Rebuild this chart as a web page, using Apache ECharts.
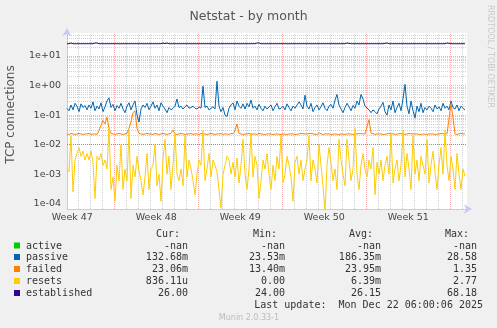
<!DOCTYPE html>
<html><head><meta charset="utf-8">
<script src="https://cdn.jsdelivr.net/npm/echarts@6/dist/echarts.min.js"></script>
<style>html,body{margin:0;padding:0;background:#f0f0f0}#c{width:497px;height:328px}</style>
</head><body><div id="c"></div>
<script>
// ---------- data ----------
const titleText = 'Netstat - by month';
const yAxisTitle = 'TCP connections';
const seriesNames = ['active', 'passive', 'failed', 'resets', 'established'];
const seriesColors = ['#00CC00', '#0066B3', '#FF8000', '#FFCC00', '#330099'];

// sample spacing: 4 hours, time measured in days from left edge of graph
const sampleHours = 4;
const daySpan = 33.333;

const activeValues = []; // -nan: no data

const passiveValues = [
  0.17,0.14,0.22,0.15,0.25,0.2,0.13,0.24,0.18,0.21,
  0.15,0.22,0.17,0.28,0.14,0.2,0.16,0.26,0.13,0.19,
  0.3,0.38,0.18,0.23,0.14,0.21,0.17,0.25,0.16,0.12,
  0.2,0.26,0.15,0.22,0.3,0.1,0.058,0.16,0.22,0.18,
  0.25,0.15,0.2,0.28,0.17,0.22,0.14,0.26,0.2,0.16,
  0.12,0.18,0.15,0.17,0.2,0.35,0.18,0.2,0.16,0.19,
  0.22,0.17,0.18,0.2,0.17,0.16,0.19,0.17,0.95,0.18,
  0.2,0.15,0.17,0.19,0.16,1.4,0.2,0.13,0.18,0.1,
  0.09,0.17,0.22,0.26,0.15,0.3,0.2,0.17,0.24,0.16,
  0.25,0.19,0.32,0.17,0.2,0.15,0.23,0.17,0.14,0.2,
  0.16,0.18,0.22,0.14,0.19,0.25,0.16,0.17,0.2,0.15,
  0.24,0.18,0.14,0.2,0.17,0.15,0.28,0.22,0.16,0.47,
  0.2,0.16,0.25,0.13,0.18,0.22,0.15,0.19,0.26,0.17,
  0.14,0.2,0.23,0.17,0.32,0.5,0.22,0.16,0.12,0.18,
  0.25,0.19,0.14,0.21,0.17,0.3,0.22,0.5,0.35,0.2,
  0.18,0.15,0.12,0.15,0.13,0.11,0.16,0.2,0.27,0.13,
  0.1,0.22,0.15,0.3,0.12,0.18,0.25,0.14,0.35,1.1,
  0.2,0.11,0.3,0.14,0.08,0.2,0.13,0.25,0.12,0.18,
  0.15,0.2,0.17,0.13,0.22,0.16,0.19,0.14,0.25,0.17,
  0.2,0.15,0.3,0.18,0.16,0.22,0.14,0.2,0.17,0.15
];

const failedValues = [
  0.023,0.022,0.024,0.023,0.022,0.023,0.024,0.023,0.022,0.023,
  0.023,0.024,0.022,0.023,0.023,0.022,0.03,0.045,0.065,0.05,
  0.085,0.035,0.024,0.023,0.022,0.023,0.024,0.023,0.022,0.023,
  0.024,0.035,0.06,0.12,0.14,0.035,0.024,0.023,0.022,0.023,
  0.024,0.023,0.023,0.022,0.024,0.023,0.022,0.023,0.024,0.023,
  0.022,0.023,0.024,0.031,0.023,0.022,0.023,0.024,0.023,0.022,
  0.023,0.023,0.024,0.022,0.023,0.023,0.022,0.024,0.023,0.023,
  0.022,0.023,0.024,0.023,0.022,0.023,0.023,0.024,0.022,0.023,
  0.023,0.022,0.024,0.023,0.03,0.05,0.024,0.023,0.022,0.023,
  0.023,0.024,0.022,0.023,0.023,0.022,0.024,0.023,0.023,0.022,
  0.023,0.024,0.023,0.022,0.023,0.023,0.024,0.022,0.023,0.023,
  0.022,0.023,0.024,0.023,0.022,0.023,0.023,0.024,0.022,0.023,
  0.023,0.022,0.024,0.023,0.023,0.022,0.025,0.023,0.022,0.023,
  0.024,0.023,0.022,0.023,0.023,0.024,0.022,0.023,0.023,0.022,
  0.023,0.024,0.023,0.022,0.023,0.023,0.024,0.022,0.023,0.023,
  0.023,0.07,0.025,0.023,0.022,0.023,0.024,0.023,0.022,0.023,
  0.023,0.024,0.022,0.023,0.023,0.022,0.024,0.023,0.023,0.022,
  0.023,0.024,0.023,0.022,0.023,0.023,0.024,0.022,0.023,0.023,
  0.022,0.023,0.024,0.023,0.022,0.023,0.023,0.024,0.022,0.023,
  0.023,0.024,0.25,0.08,0.023,0.022,0.023,0.024,0.023,0.023
];

const resetsValues = [
  1.5e-3,1.2e-3,2e-2,2.5e-4,3e-3,5e-3,8e-3,4e-3,6e-3,3e-3,
  5e-3,3e-3,6e-3,2.5e-3,1.5e-4,4e-3,3e-3,5e-3,2e-3,3e-3,
  1.5e-3,4e-2,3e-4,8e-4,1.2e-4,2e-3,6e-4,1e-2,3e-4,1.5e-3,
  6e-4,3e-2,1.5e-4,2e-3,8e-4,4e-3,1.3e-3,6e-4,2e-4,8e-4,
  5e-3,3e-4,1.5e-3,2e-3,1e-2,4e-4,1e-3,1.2e-4,3e-3,1.5e-2,
  1e-3,4e-3,3e-4,2e-3,2.5e-2,1e-3,6e-4,1.5e-3,4e-4,2e-2,
  8e-4,3e-3,1.5e-3,6e-4,2e-4,1e-3,3e-3,2e-3,3e-2,6e-4,
  1.5e-3,5e-3,8e-4,3e-3,2e-3,1.2e-3,3e-4,7e-5,1e-3,2e-3,
  4e-3,3e-3,1e-3,2.5e-3,8e-4,3.5e-3,5e-4,2e-3,1.5e-2,1e-3,
  3e-4,1.5e-3,2.5e-2,8e-4,4e-3,2e-3,1.5e-4,6e-4,3e-3,1.5e-3,
  5e-3,1e-3,3e-4,2e-3,6e-4,4e-3,1.5e-3,2e-2,5e-4,1e-3,
  4e-3,2e-3,8e-4,1.2e-4,2.5e-3,4e-3,1e-3,3e-3,6e-4,1.5e-3,
  3e-3,2e-2,6e-4,3e-3,1.5e-3,5e-4,1e-2,2e-3,4e-4,5e-5,
  2e-3,8e-3,2.5e-3,6e-4,1.5e-3,3e-4,1.5e-2,3e-3,1e-3,4e-4,
  1.5e-2,3e-3,6e-4,1.5e-3,3.5e-2,1e-3,3e-4,2e-3,5e-3,1.5e-3,
  8e-4,3e-3,1.5e-3,8e-3,2e-4,2.5e-3,1e-3,3e-3,6e-4,2e-3,
  4e-3,1e-3,2.5e-2,5e-4,1.5e-3,3e-3,6e-4,2e-3,3e-2,8e-4,
  5e-3,1.5e-3,3e-4,2e-2,1e-3,3e-3,6e-4,4e-3,2e-3,1e-3,
  1.5e-2,5e-4,2e-3,6e-3,1.2e-3,3e-4,2e-3,8e-3,1e-3,3e-2,
  2e-3,6e-4,4e-3,1.5e-3,3e-4,5e-3,1e-3,3e-4,1.5e-3,8.4e-4
];

const establishedValues = [
  26,26,27.5,26,26,26,26,26,26,26,
  26,26,26,26,27.5,27.5,26,26,26,26,
  26,26,26,26,26,26,26,26,26,26,
  26,26,26,26,26,26,26,26,26,26,
  26,26,26,26,26,26,26,26,27.5,26,
  27.5,26,26,26,26,26,26,26,26,26,
  26,26,26,26,26,26,26,26,26,26,
  26,26,26,26,26,26,26,26,26,26,
  26,26,26,26,26,26,26,26,26,26,
  26,26,26,26,26,27.5,27.5,26,26,26,
  26,26,26,26,26,26,26,26,26,26,
  26,26,26,26,26,26,26,26,26,26,
  26,26,26,26,26,26,26,26,26,26,
  26,26,26,26,26,26,26,26,26,26,
  27.5,26,26,26,26,26,26,26,26,26,
  27.5,26,26,26,26,26,26,26,26,26,
  27.5,26,26,26,26,26,26,26,26,26,
  26,26,26,26,26,26,26,26,26,26,
  26,26,26,26,26,26,26,26,26,26,
  27.5,26,26,26,26,26,26,26,26,26
];

// axis ticks
const weekLabels = ['Week 47', 'Week 48', 'Week 49', 'Week 50', 'Week 51'];
const weekCenters = [0.44, 7.44, 14.44, 21.44, 28.44];   // days from left edge
const weekStarts = [3.94, 10.94, 17.94, 24.94, 31.94];   // red week boundaries
const dayLines = [0.94,1.94,2.94,4.94,5.94,6.94,7.94,8.94,9.94,11.94,12.94,13.94,14.94,15.94,16.94,
  18.94,19.94,20.94,21.94,22.94,23.94,25.94,26.94,27.94,28.94,29.94,30.94,32.94];
const yTickValues = [1e-4, 1e-3, 1e-2, 1e-1, 1, 10];
const yMinorValues = [
  7e-5,8e-5,9e-5,
  2e-4,3e-4,4e-4,5e-4,6e-4,7e-4,8e-4,9e-4,
  2e-3,3e-3,4e-3,5e-3,6e-3,7e-3,8e-3,9e-3,
  2e-2,3e-2,4e-2,5e-2,6e-2,7e-2,8e-2,9e-2,
  0.2,0.3,0.4,0.5,0.6,0.7,0.8,0.9,
  2,3,4,5,6,7,8,9,
  20,30,40,50
];
const yMin = 6.6e-5, yMax = 60;

// legend table
const curVals = ['-nan', '132.68m', '23.06m', '836.11u', '26.00'];
const minVals = ['-nan', '23.53m', '13.40m', '0.00', '24.00'];
const avgVals = ['-nan', '186.35m', '23.95m', '6.39m', '26.15'];
const maxVals = ['-nan', '28.58', '1.35', '2.77', '68.18'];
const colHeaders = ['Cur:', 'Min:', 'Avg:', 'Max:'];
const lastUpdate = 'Last update:  Mon Dec 22 06:00:06 2025';
const footer = 'Munin 2.0.33-1';
const watermark = 'RRDTOOL / TOBI OETIKER';

// ---------- chart ----------
function toPairs(vals) {
  return vals.map((v, i) => [i * sampleHours / 24, v]);
}
function fmtExp(v) {
  const e = Math.round(Math.log10(v));
  return '1e' + (e < 0 ? '-' : '+') + String(Math.abs(e)).padStart(2, '0');
}

const minorStyle = { color: 'rgba(150,150,150,0.45)', width: 1, type: [1, 1] };
const majorStyle = { color: 'rgba(240,80,80,0.45)', width: 1, type: [1, 1] };
const gridLines = []
  .concat(yMinorValues.map(v => ({ yAxis: v, lineStyle: minorStyle })))
  .concat(dayLines.map(d => ({ xAxis: d, lineStyle: minorStyle })))
  .concat(yTickValues.map(v => ({ yAxis: v, lineStyle: majorStyle })))
  .concat(weekStarts.map(d => ({ xAxis: d, lineStyle: majorStyle })));

const mono = 'DejaVu Sans Mono';
const sans = 'DejaVu Sans';
const allValues = [activeValues, passiveValues, failedValues, resetsValues, establishedValues];

const series = seriesNames.map((name, k) => ({
  name: name,
  type: 'line',
  data: toPairs(allValues[k]),
  symbol: 'none',
  showSymbol: false,
  animation: false,
  z: 2 + k,
  lineStyle: { color: seriesColors[k], width: 1 },
  itemStyle: { color: seriesColors[k] },
  markLine: k === 0 ? {
    silent: true, animation: false, symbol: ['none', 'none'], z: 1,
    label: { show: false }, data: gridLines
  } : undefined
}));

// legend graphic
const graphics = [];
const colRight = [188, 285, 381, 477];
const headRight = [180, 277, 373, 469];
const rowY = [246, 257.5, 269.5, 281.5, 293.5];
const cols = [curVals, minVals, avgVals, maxVals];
colHeaders.forEach((h, j) => graphics.push({ type: 'text', x: headRight[j], y: 234,
  style: { text: h, font: '10px ' + mono, fill: '#333', align: 'right', verticalAlign: 'middle' } }));
seriesNames.forEach((n, i) => {
  graphics.push({ type: 'rect', shape: { x: 14, y: rowY[i] - 3.5, width: 6, height: 6 }, style: { fill: seriesColors[i] } });
  graphics.push({ type: 'text', x: 26, y: rowY[i], style: { text: n, font: '10px ' + mono, fill: '#333', align: 'left', verticalAlign: 'middle' } });
  cols.forEach((c, j) => graphics.push({ type: 'text', x: colRight[j], y: rowY[i],
    style: { text: c[i], font: '10px ' + mono, fill: '#333', align: 'right', verticalAlign: 'middle' } }));
});
graphics.push({ type: 'text', x: 483, y: 305.5, style: { text: lastUpdate, font: '10px ' + mono, fill: '#333', align: 'right', verticalAlign: 'middle' } });
graphics.push({ type: 'text', x: 249, y: 317.5, style: { text: footer, font: '8px ' + sans, fill: '#bbb', align: 'center', verticalAlign: 'middle' } });
graphics.push({ type: 'text', x: 490, y: 5, rotation: -Math.PI / 2, style: { text: watermark, font: '8px ' + sans, fill: '#c8c8c8', align: 'left', verticalAlign: 'middle' } });
graphics.push({ type: 'text', x: 11, y: 114.5, rotation: Math.PI / 2, style: { text: yAxisTitle, font: '12px ' + sans, fill: '#555', align: 'center', verticalAlign: 'middle' } });

const chart = echarts.init(document.getElementById('c'), null, { renderer: 'canvas' });
chart.setOption({
  backgroundColor: '#f0f0f0',
  animation: false,
  title: { text: titleText, left: 'center', top: 5,
    textStyle: { fontFamily: sans, fontSize: 12.5, fontWeight: 'normal', color: '#555' } },
  grid: { left: 67, top: 33, width: 400, height: 176, show: true, backgroundColor: '#fff', borderWidth: 0 },
  xAxis: {
    type: 'value', min: 0, max: daySpan,
    axisLine: { show: true, lineStyle: { color: '#c5cbf5', width: 1 }, symbol: ['none', 'arrow'], symbolSize: [7, 8], symbolOffset: [0, 5] },
    axisTick: { show: false },
    splitLine: { show: false },
    axisLabel: { customValues: weekCenters, margin: 4, color: '#444', fontFamily: sans, fontSize: 9.5,
      formatter: v => weekLabels[weekCenters.findIndex(c => Math.abs(c - v) < 0.01)] || '' }
  },
  yAxis: {
    type: 'log', logBase: 10, min: yMin, max: yMax,
    axisLine: { show: true, lineStyle: { color: '#c5cbf5', width: 1 }, symbol: ['none', 'arrow'], symbolSize: [7, 8], symbolOffset: [0, 5] },
    axisTick: { show: false },
    splitLine: { show: false },
    axisLabel: { customValues: yTickValues, margin: 6, color: '#444', fontFamily: sans, fontSize: 9.5, formatter: v => fmtExp(v) }
  },
  series: series,
  graphic: graphics
});
</script></body></html>
